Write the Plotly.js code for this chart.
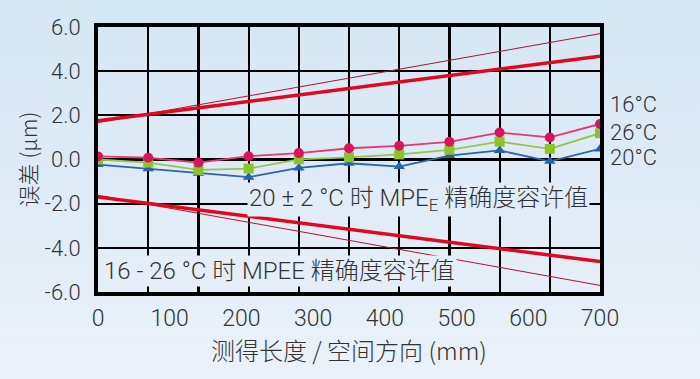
<!DOCTYPE html>
<html>
<head>
<meta charset="utf-8">
<script src="https://cdn.plot.ly/plotly-3.0.1.min.js"></script>
<style>
html,body{margin:0;padding:0;}
body{width:700px;height:379px;background:linear-gradient(180deg,#d4e7f4 0%,#dfebf6 50%,#ebf1f8 100%);}
#chart{width:700px;height:379px;}
</style>
</head>
<body>
<div id="chart"></div>
<script>
// Measurement positions (mm)
const positions = [0, 70, 140, 210, 280, 350, 420, 490, 560, 630, 700];
// Error series (µm)
const err16 = [0.14, 0.08, -0.14, 0.15, 0.29, 0.51, 0.62, 0.80, 1.22, 1.00, 1.61];
const err26 = [0.00, -0.14, -0.47, -0.41, 0.01, 0.10, 0.23, 0.44, 0.81, 0.48, 1.19];
const err20 = [-0.23, -0.42, -0.62, -0.80, -0.38, -0.17, -0.32, 0.18, 0.41, -0.08, 0.48];
// MPE limit lines (endpoints)
const limitX = [0, 700];
const mpe20Upper = [1.75, 4.68];
const mpe20Lower = [-1.70, -4.62];
const mpe1626Upper = [1.67, 5.70];
const mpe1626Lower = [-1.62, -5.70];
// Tick labels
const xTicks = [0, 100, 200, 300, 400, 500, 600, 700];
const yTicks = [-6, -4, -2, 0, 2, 4, 6];
const seriesLabels = ['16°C', '26°C', '20°C'];
const seriesLabelY = [2.48, 1.22, 0.08];

const FONT = 'Roboto, Noto Sans CJK SC, sans-serif';
const TXT = '#333333';

const traces = [
  {x: limitX, y: mpe1626Upper, mode: 'lines', line: {color: '#b3122e', width: 1}, hoverinfo: 'skip'},
  {x: limitX, y: mpe1626Lower, mode: 'lines', line: {color: '#b3122e', width: 1}, hoverinfo: 'skip'},
  {x: limitX, y: mpe20Upper, mode: 'lines', line: {color: '#e2061f', width: 3.5}, hoverinfo: 'skip'},
  {x: limitX, y: mpe20Lower, mode: 'lines', line: {color: '#e2061f', width: 3.5}, hoverinfo: 'skip'},
  {x: limitX, y: [0, 0], xaxis: 'x2', mode: 'lines', line: {width: 0, color: 'rgba(0,0,0,0)'}, hoverinfo: 'skip'},
  {x: positions, y: err20, mode: 'lines+markers', name: '20°C',
   line: {color: '#2b64a8', width: 1.8}, marker: {symbol: 'triangle-up', size: 10, color: '#1f63b5'}},
  {x: positions, y: err26, mode: 'lines+markers', name: '26°C',
   line: {color: '#93c648', width: 1.8}, marker: {symbol: 'square', size: 10, color: '#8cc22a'}},
  {x: positions, y: err16, mode: 'lines+markers', name: '16°C',
   line: {color: '#e43873', width: 1.8}, marker: {symbol: 'circle', size: 10, color: '#d8145e'}}
];

const labelAnns = seriesLabels.map((t, i) => ({
  xref: 'paper', yref: 'y', x: 1, xshift: 9, y: seriesLabelY[i], xanchor: 'left', yanchor: 'middle',
  showarrow: false, text: t, borderpad: 0, font: {family: FONT, size: 22, color: TXT, weight: 300}
}));

const layout = {
  width: 700, height: 379,
  margin: {l: 98, r: 100, t: 27, b: 87},
  paper_bgcolor: 'rgba(0,0,0,0)',
  plot_bgcolor: 'rgba(0,0,0,0)',
  showlegend: false,
  font: {family: FONT, color: TXT, size: 22},
  xaxis: {
    range: [0, 700], tickvals: xTicks, ticktext: xTicks.map(String),
    showgrid: false, zeroline: false,
    showline: true, mirror: true, linecolor: '#000', linewidth: 4,
    ticks: '', ticklabelstandoff: 2,
    tickfont: {family: FONT, size: 23, color: TXT, weight: 300},
    title: {text: '测得长度 / 空间方向 (mm)', font: {family: 'Noto Sans CJK SC, sans-serif', size: 24, color: TXT, weight: 300}, standoff: 4}
  },
  xaxis2: {
    overlaying: 'x', anchor: 'y', side: 'bottom', range: [0, 700], tickvals: positions,
    showgrid: true, gridcolor: '#000', gridwidth: 2.2,
    showticklabels: false, zeroline: false, showline: false, ticks: ''
  },
  yaxis: {
    range: [-6, 6], tickvals: yTicks, ticktext: yTicks.map(v => v.toFixed(1)),
    showgrid: true, gridcolor: '#000', gridwidth: 2.2,
    zeroline: false,
    showline: true, mirror: true, linecolor: '#000', linewidth: 4,
    ticks: '', ticklabelstandoff: 9,
    tickfont: {family: FONT, size: 22, color: TXT, weight: 300},
    title: {text: '误差 (μm)', font: {family: 'Noto Sans CJK SC, sans-serif', size: 22, color: TXT, weight: 300}, standoff: 2}
  },
  annotations: labelAnns.concat([
    {xref: 'x', yref: 'y', x: 700, xshift: -10, y: -1.8, xanchor: 'right', yanchor: 'middle', showarrow: false,
     text: '20 ± 2 °C 时 MPE<sub>E</sub> 精确度容许值', bgcolor: '#e1ecf6', borderpad: 1,
     font: {family: FONT, size: 24, color: TXT, weight: 300}},
    {xref: 'x', yref: 'y', x: 0, xshift: 4, y: -5.05, xanchor: 'left', yanchor: 'middle', showarrow: false,
     text: '16 - 26 °C 时 MPEE 精确度容许值', bgcolor: '#e5eef7', borderpad: 1,
     font: {family: FONT, size: 24, color: TXT, weight: 300}}
  ])
};

Plotly.newPlot('chart', traces, layout, {staticPlot: true});
</script>
</body>
</html>
